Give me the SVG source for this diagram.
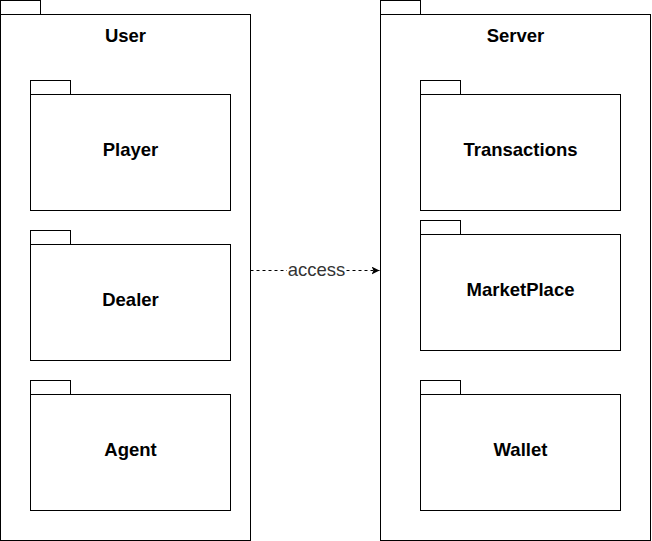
<svg xmlns="http://www.w3.org/2000/svg" width="652" height="541" viewBox="0 0 652 541">
<defs>
<style>
.pkg{fill:#ffffff;stroke:#000000;stroke-width:1}
.t{font-family:"Liberation Sans",Arial,sans-serif;font-size:18.5px;font-weight:bold;fill:#000000;text-anchor:middle}
.lbl{font-family:"Liberation Sans",Arial,sans-serif;font-size:18.5px;fill:#333333;text-anchor:middle}
.edge{fill:none;stroke:#000000;stroke-width:1;stroke-dasharray:3 3}
</style>
<marker id="arr" markerWidth="10" markerHeight="10" refX="8" refY="4" orient="auto" markerUnits="userSpaceOnUse">
<path d="M0,0 L8,4 L0,8 L2,4 Z" fill="#000000"/>
</marker>
</defs>
<rect width="652" height="541" fill="#ffffff"/>
<g id="user">
<rect class="pkg" x="0.5" y="0.5" width="40" height="14"/>
<rect class="pkg" x="0.5" y="14.5" width="250" height="526"/>
<text class="t" x="125.5" y="41.8">User</text>
</g>
<g id="server">
<rect class="pkg" x="380.5" y="0.5" width="40" height="14"/>
<rect class="pkg" x="380.5" y="14.5" width="270" height="526"/>
<text class="t" x="515.5" y="41.8">Server</text>
</g>
<g id="player">
<rect class="pkg" x="30.5" y="80.5" width="40" height="14"/>
<rect class="pkg" x="30.5" y="94.5" width="200" height="116"/>
<text class="t" x="130.5" y="156">Player</text>
</g>
<g id="dealer">
<rect class="pkg" x="30.5" y="230.5" width="40" height="14"/>
<rect class="pkg" x="30.5" y="244.5" width="200" height="116"/>
<text class="t" x="130.5" y="306">Dealer</text>
</g>
<g id="agent">
<rect class="pkg" x="30.5" y="380.5" width="40" height="14"/>
<rect class="pkg" x="30.5" y="394.5" width="200" height="116"/>
<text class="t" x="130.5" y="456">Agent</text>
</g>
<g id="transactions">
<rect class="pkg" x="420.5" y="80.5" width="40" height="14"/>
<rect class="pkg" x="420.5" y="94.5" width="200" height="116"/>
<text class="t" x="520.5" y="156">Transactions</text>
</g>
<g id="marketplace">
<rect class="pkg" x="420.5" y="220.5" width="40" height="14"/>
<rect class="pkg" x="420.5" y="234.5" width="200" height="116"/>
<text class="t" x="520.5" y="296">MarketPlace</text>
</g>
<g id="wallet">
<rect class="pkg" x="420.5" y="380.5" width="40" height="14"/>
<rect class="pkg" x="420.5" y="394.5" width="200" height="116"/>
<text class="t" x="520.5" y="456">Wallet</text>
</g>
<g id="connectors">
<path class="edge" d="M250.5,270.5 L379.5,270.5" marker-end="url(#arr)"/>
<rect x="287" y="261" width="59" height="18" fill="#ffffff"/>
<text class="lbl" x="316.5" y="275.5">access</text>
</g>
</svg>
